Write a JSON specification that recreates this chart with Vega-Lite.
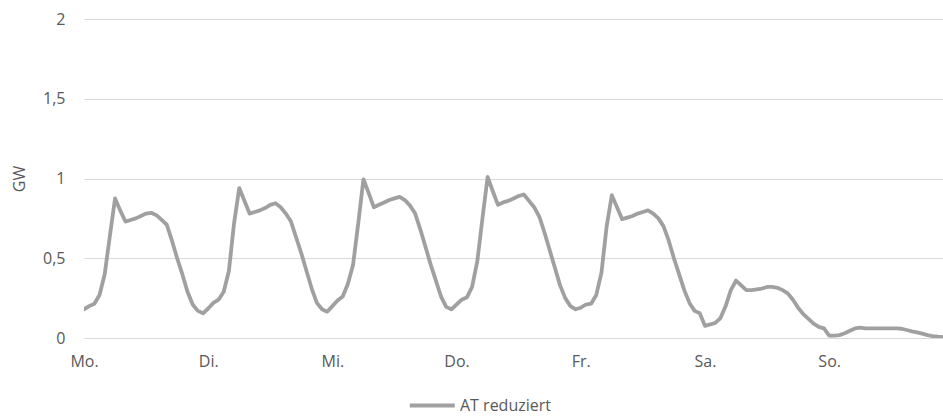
{
  "$schema": "https://vega.github.io/schema/vega-lite/v6.json",
  "width": 859,
  "height": 319,
  "autosize": {"type": "none"},
  "padding": {"left": 84, "top": 19, "right": 0, "bottom": 78},
  "background": "#ffffff",
  "config": {
    "view": {"stroke": null},
    "font": "Open Sans",
    "axis": {"labelFont": "Open Sans", "titleFont": "Open Sans", "labelColor": "#595959", "titleColor": "#595959", "labelFontSize": 16, "titleFontSize": 16, "titleFontWeight": "normal"}
  },
  "data": {
    "values": [
      {"h":0,"gw":0.18,"s":"AT reduziert"},{"h":1,"gw":0.2,"s":"AT reduziert"},{"h":2,"gw":0.215,"s":"AT reduziert"},{"h":3,"gw":0.27,"s":"AT reduziert"},{"h":4,"gw":0.4,"s":"AT reduziert"},{"h":5,"gw":0.64,"s":"AT reduziert"},{"h":6,"gw":0.875,"s":"AT reduziert"},{"h":7,"gw":0.8,"s":"AT reduziert"},{"h":8,"gw":0.73,"s":"AT reduziert"},{"h":9,"gw":0.74,"s":"AT reduziert"},{"h":10,"gw":0.75,"s":"AT reduziert"},{"h":11,"gw":0.765,"s":"AT reduziert"},{"h":12,"gw":0.78,"s":"AT reduziert"},{"h":13,"gw":0.785,"s":"AT reduziert"},{"h":14,"gw":0.77,"s":"AT reduziert"},{"h":15,"gw":0.74,"s":"AT reduziert"},{"h":16,"gw":0.71,"s":"AT reduziert"},{"h":17,"gw":0.61,"s":"AT reduziert"},{"h":18,"gw":0.5,"s":"AT reduziert"},{"h":19,"gw":0.4,"s":"AT reduziert"},{"h":20,"gw":0.29,"s":"AT reduziert"},{"h":21,"gw":0.21,"s":"AT reduziert"},{"h":22,"gw":0.17,"s":"AT reduziert"},{"h":23,"gw":0.155,"s":"AT reduziert"},
      {"h":24,"gw":0.185,"s":"AT reduziert"},{"h":25,"gw":0.22,"s":"AT reduziert"},{"h":26,"gw":0.24,"s":"AT reduziert"},{"h":27,"gw":0.29,"s":"AT reduziert"},{"h":28,"gw":0.42,"s":"AT reduziert"},{"h":29,"gw":0.72,"s":"AT reduziert"},{"h":30,"gw":0.94,"s":"AT reduziert"},{"h":31,"gw":0.86,"s":"AT reduziert"},{"h":32,"gw":0.78,"s":"AT reduziert"},{"h":33,"gw":0.79,"s":"AT reduziert"},{"h":34,"gw":0.8,"s":"AT reduziert"},{"h":35,"gw":0.815,"s":"AT reduziert"},{"h":36,"gw":0.835,"s":"AT reduziert"},{"h":37,"gw":0.845,"s":"AT reduziert"},{"h":38,"gw":0.82,"s":"AT reduziert"},{"h":39,"gw":0.78,"s":"AT reduziert"},{"h":40,"gw":0.73,"s":"AT reduziert"},{"h":41,"gw":0.63,"s":"AT reduziert"},{"h":42,"gw":0.53,"s":"AT reduziert"},{"h":43,"gw":0.42,"s":"AT reduziert"},{"h":44,"gw":0.31,"s":"AT reduziert"},{"h":45,"gw":0.22,"s":"AT reduziert"},{"h":46,"gw":0.18,"s":"AT reduziert"},{"h":47,"gw":0.165,"s":"AT reduziert"},
      {"h":48,"gw":0.2,"s":"AT reduziert"},{"h":49,"gw":0.235,"s":"AT reduziert"},{"h":50,"gw":0.26,"s":"AT reduziert"},{"h":51,"gw":0.34,"s":"AT reduziert"},{"h":52,"gw":0.46,"s":"AT reduziert"},{"h":53,"gw":0.72,"s":"AT reduziert"},{"h":54,"gw":0.995,"s":"AT reduziert"},{"h":55,"gw":0.91,"s":"AT reduziert"},{"h":56,"gw":0.82,"s":"AT reduziert"},{"h":57,"gw":0.835,"s":"AT reduziert"},{"h":58,"gw":0.85,"s":"AT reduziert"},{"h":59,"gw":0.865,"s":"AT reduziert"},{"h":60,"gw":0.875,"s":"AT reduziert"},{"h":61,"gw":0.885,"s":"AT reduziert"},{"h":62,"gw":0.865,"s":"AT reduziert"},{"h":63,"gw":0.83,"s":"AT reduziert"},{"h":64,"gw":0.78,"s":"AT reduziert"},{"h":65,"gw":0.68,"s":"AT reduziert"},{"h":66,"gw":0.57,"s":"AT reduziert"},{"h":67,"gw":0.46,"s":"AT reduziert"},{"h":68,"gw":0.36,"s":"AT reduziert"},{"h":69,"gw":0.26,"s":"AT reduziert"},{"h":70,"gw":0.195,"s":"AT reduziert"},{"h":71,"gw":0.18,"s":"AT reduziert"},
      {"h":72,"gw":0.21,"s":"AT reduziert"},{"h":73,"gw":0.24,"s":"AT reduziert"},{"h":74,"gw":0.255,"s":"AT reduziert"},{"h":75,"gw":0.32,"s":"AT reduziert"},{"h":76,"gw":0.48,"s":"AT reduziert"},{"h":77,"gw":0.75,"s":"AT reduziert"},{"h":78,"gw":1.01,"s":"AT reduziert"},{"h":79,"gw":0.92,"s":"AT reduziert"},{"h":80,"gw":0.835,"s":"AT reduziert"},{"h":81,"gw":0.85,"s":"AT reduziert"},{"h":82,"gw":0.86,"s":"AT reduziert"},{"h":83,"gw":0.875,"s":"AT reduziert"},{"h":84,"gw":0.89,"s":"AT reduziert"},{"h":85,"gw":0.9,"s":"AT reduziert"},{"h":86,"gw":0.86,"s":"AT reduziert"},{"h":87,"gw":0.82,"s":"AT reduziert"},{"h":88,"gw":0.76,"s":"AT reduziert"},{"h":89,"gw":0.66,"s":"AT reduziert"},{"h":90,"gw":0.55,"s":"AT reduziert"},{"h":91,"gw":0.44,"s":"AT reduziert"},{"h":92,"gw":0.33,"s":"AT reduziert"},{"h":93,"gw":0.25,"s":"AT reduziert"},{"h":94,"gw":0.2,"s":"AT reduziert"},{"h":95,"gw":0.18,"s":"AT reduziert"},
      {"h":96,"gw":0.19,"s":"AT reduziert"},{"h":97,"gw":0.21,"s":"AT reduziert"},{"h":98,"gw":0.215,"s":"AT reduziert"},{"h":99,"gw":0.27,"s":"AT reduziert"},{"h":100,"gw":0.41,"s":"AT reduziert"},{"h":101,"gw":0.7,"s":"AT reduziert"},{"h":102,"gw":0.895,"s":"AT reduziert"},{"h":103,"gw":0.82,"s":"AT reduziert"},{"h":104,"gw":0.745,"s":"AT reduziert"},{"h":105,"gw":0.755,"s":"AT reduziert"},{"h":106,"gw":0.765,"s":"AT reduziert"},{"h":107,"gw":0.78,"s":"AT reduziert"},{"h":108,"gw":0.79,"s":"AT reduziert"},{"h":109,"gw":0.8,"s":"AT reduziert"},{"h":110,"gw":0.78,"s":"AT reduziert"},{"h":111,"gw":0.75,"s":"AT reduziert"},{"h":112,"gw":0.7,"s":"AT reduziert"},{"h":113,"gw":0.61,"s":"AT reduziert"},{"h":114,"gw":0.5,"s":"AT reduziert"},{"h":115,"gw":0.4,"s":"AT reduziert"},{"h":116,"gw":0.3,"s":"AT reduziert"},{"h":117,"gw":0.22,"s":"AT reduziert"},{"h":118,"gw":0.17,"s":"AT reduziert"},{"h":119,"gw":0.155,"s":"AT reduziert"},
      {"h":120,"gw":0.076,"s":"AT reduziert"},{"h":121,"gw":0.085,"s":"AT reduziert"},{"h":122,"gw":0.095,"s":"AT reduziert"},{"h":123,"gw":0.125,"s":"AT reduziert"},{"h":124,"gw":0.2,"s":"AT reduziert"},{"h":125,"gw":0.3,"s":"AT reduziert"},{"h":126,"gw":0.36,"s":"AT reduziert"},{"h":127,"gw":0.33,"s":"AT reduziert"},{"h":128,"gw":0.3,"s":"AT reduziert"},{"h":129,"gw":0.3,"s":"AT reduziert"},{"h":130,"gw":0.305,"s":"AT reduziert"},{"h":131,"gw":0.31,"s":"AT reduziert"},{"h":132,"gw":0.32,"s":"AT reduziert"},{"h":133,"gw":0.32,"s":"AT reduziert"},{"h":134,"gw":0.315,"s":"AT reduziert"},{"h":135,"gw":0.3,"s":"AT reduziert"},{"h":136,"gw":0.28,"s":"AT reduziert"},{"h":137,"gw":0.24,"s":"AT reduziert"},{"h":138,"gw":0.19,"s":"AT reduziert"},{"h":139,"gw":0.15,"s":"AT reduziert"},{"h":140,"gw":0.12,"s":"AT reduziert"},{"h":141,"gw":0.09,"s":"AT reduziert"},{"h":142,"gw":0.07,"s":"AT reduziert"},{"h":143,"gw":0.06,"s":"AT reduziert"},
      {"h":144,"gw":0.015,"s":"AT reduziert"},{"h":145,"gw":0.015,"s":"AT reduziert"},{"h":146,"gw":0.018,"s":"AT reduziert"},{"h":147,"gw":0.03,"s":"AT reduziert"},{"h":148,"gw":0.045,"s":"AT reduziert"},{"h":149,"gw":0.06,"s":"AT reduziert"},{"h":150,"gw":0.065,"s":"AT reduziert"},{"h":151,"gw":0.06,"s":"AT reduziert"},{"h":152,"gw":0.06,"s":"AT reduziert"},{"h":153,"gw":0.06,"s":"AT reduziert"},{"h":154,"gw":0.06,"s":"AT reduziert"},{"h":155,"gw":0.06,"s":"AT reduziert"},{"h":156,"gw":0.06,"s":"AT reduziert"},{"h":157,"gw":0.06,"s":"AT reduziert"},{"h":158,"gw":0.058,"s":"AT reduziert"},{"h":159,"gw":0.05,"s":"AT reduziert"},{"h":160,"gw":0.042,"s":"AT reduziert"},{"h":161,"gw":0.035,"s":"AT reduziert"},{"h":162,"gw":0.027,"s":"AT reduziert"},{"h":163,"gw":0.018,"s":"AT reduziert"},{"h":164,"gw":0.012,"s":"AT reduziert"},{"h":165,"gw":0.008,"s":"AT reduziert"},{"h":166,"gw":0.005,"s":"AT reduziert"},{"h":167,"gw":0.004,"s":"AT reduziert"}
    ]
  },
  "mark": {"type": "line", "strokeWidth": 3.8, "clip": true, "strokeJoin": "round", "strokeCap": "round"},
  "encoding": {
    "x": {
      "field": "h", "type": "quantitative",
      "scale": {"domain": [0, 166], "nice": false, "zero": false},
      "axis": {"title": null, "values": [0, 24, 48, 72, 96, 120, 144], "labelExpr": "['Mo.','Di.','Mi.','Do.','Fr.','Sa.','So.'][round(datum.value/24)]", "grid": false, "ticks": false, "domain": false, "labelPadding": 15, "labelFlush": false}
    },
    "y": {
      "field": "gw", "type": "quantitative",
      "scale": {"domain": [0, 2], "nice": false},
      "axis": {"title": "GW", "values": [0, 0.5, 1, 1.5, 2], "format": ".1~f", "labelExpr": "replace(datum.label, '.', ',')", "grid": true, "gridColor": "#d9d9d9", "gridWidth": 1, "ticks": false, "domain": false, "labelPadding": 19, "titlePadding": 15}
    },
    "color": {
      "field": "s", "type": "nominal",
      "scale": {"domain": ["AT reduziert"], "range": ["#a0a0a0"]},
      "legend": {"title": null, "orient": "none", "legendX": 346, "legendY": 373, "direction": "horizontal", "symbolType": "M-3,0H1", "symbolSize": 506, "symbolStrokeWidth": 4, "labelFont": "Open Sans", "labelFontSize": 16, "labelColor": "#595959", "labelOffset": 3, "padding": 0}
    }
  }
}
